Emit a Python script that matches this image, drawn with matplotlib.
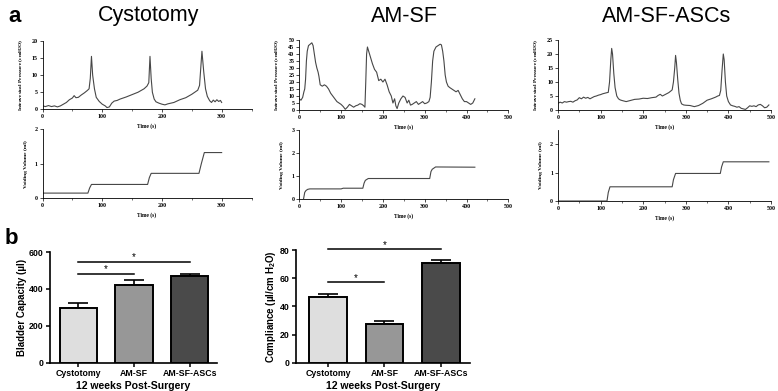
import numpy as np
import matplotlib
matplotlib.use("Agg")
import matplotlib.pyplot as plt
from matplotlib.ticker import MultipleLocator

# cystometry traces
cys_t = [0, 5, 10, 15, 20, 25, 30, 35, 40, 45,
         50, 53, 56, 60, 65, 70, 75, 78, 80, 82,
         84, 87, 90, 95, 100, 105, 108, 112, 116, 120,
         125, 130, 140, 150, 160, 170, 175, 178, 180, 182,
         184, 187, 190, 195, 200, 205, 210, 220, 230, 240,
         250, 255, 260, 263, 265, 267, 270, 273, 276, 280,
         283, 286, 289, 292, 295, 298, 300]
cys_p = [1.0, 0.8, 1.1, 0.8, 1.0, 0.7, 1.0, 1.5, 2.0, 2.8,
         3.3, 4.0, 3.4, 3.5, 4.2, 4.8, 5.5, 6.0, 9.0, 15.5,
         10.0, 6.0, 3.5, 2.3, 1.5, 1.0, 0.5, 0.7, 1.8, 2.4,
         2.6, 3.0, 3.6, 4.3, 5.0, 6.0, 6.8, 7.8, 15.5, 9.0,
         5.0, 3.0, 2.2, 1.8, 1.5, 1.3, 1.6, 2.0, 2.8, 3.4,
         4.4, 5.0, 5.6, 7.0, 12.0, 17.0, 11.0, 6.0, 3.8, 2.5,
         2.0, 2.7, 2.2, 2.8, 2.3, 2.6, 2.0]
cys_vt = [0, 76, 79, 82, 176, 179, 182, 262, 266, 271, 300]
cys_v = [0.15, 0.15, 0.3, 0.4, 0.4, 0.6, 0.72, 0.72, 1.0, 1.32, 1.32]

ams_t = [0, 4, 8, 11, 13, 15, 17, 19, 22, 26,
         30, 33, 36, 39, 42, 45, 47, 50, 55, 60,
         65, 70, 75, 80, 85, 90, 95, 100, 105, 110,
         115, 120, 125, 130, 135, 140, 145, 150, 154, 157,
         159, 161, 163, 166, 170, 175, 180, 185, 190, 195,
         200, 205, 210, 215, 220, 224, 228, 231, 234, 238,
         243, 248, 253, 258, 262, 266, 270, 275, 280, 285,
         290, 295, 300, 305, 310, 313, 316, 319, 322, 327,
         332, 337, 340, 343, 346, 349, 352, 356, 360, 365,
         370, 375, 380, 385, 390, 395, 400, 405, 410, 415,
         420]
ams_p = [8, 7, 9, 13, 15, 22, 35, 42, 46, 47,
         48, 46, 40, 34, 30, 27, 24, 18, 17, 18,
         17, 15, 12, 10, 8, 6, 5, 4, 2.5, 0.5,
         2, 4, 3, 2, 3, 3.5, 4.5, 4, 3, 2,
         20, 40, 45, 42, 38, 33, 29, 27, 21, 22,
         20, 22, 18, 13, 10, 5, 8, 3, 1, 5,
         8, 10, 9, 5, 7, 3.5, 4, 5, 6, 4,
         5, 6, 4.5, 5, 6, 9, 20, 35, 42, 45,
         46, 47, 46.5, 42, 35, 25, 20, 17, 16, 15,
         14, 13, 14, 11, 8, 6, 6, 5, 4, 5,
         8]
ams_vt = [10, 13, 16, 20, 25, 100, 105, 152, 155, 158, 165, 312, 315, 318, 326, 420]
ams_v = [0.0, 0.3, 0.38, 0.43, 0.45, 0.45, 0.48, 0.48, 0.7, 0.82, 0.9, 0.9, 1.2, 1.3, 1.4, 1.39]

asc_t = [0, 5, 10, 15, 20, 25, 30, 35, 40, 45,
         50, 55, 60, 65, 70, 75, 80, 85, 90, 95,
         100, 105, 110, 115, 118, 121, 124, 126, 128, 131,
         134, 138, 142, 146, 150, 155, 160, 170, 180, 190,
         200, 210, 220, 230, 235, 240, 245, 250, 255, 260,
         265, 268, 271, 274, 276, 278, 281, 284, 287, 290,
         295, 300, 310, 320, 330, 340, 350, 360, 370, 375,
         379, 382, 385, 388, 390, 393, 396, 400, 405, 410,
         415, 420, 425, 430, 435, 440, 445, 450, 455, 460,
         465, 470, 475, 480, 485, 490, 495]
asc_p = [2.4, 2.8, 2.5, 3.0, 2.8, 3.0, 3.1, 2.8, 3.3, 3.6,
         4.4, 4.0, 4.6, 4.2, 4.5, 4.0, 4.4, 4.8, 5.0, 5.3,
         5.5, 5.8, 6.0, 6.2, 6.3, 10.0, 18.0, 22.0, 20.0, 13.0,
         8.0, 5.0, 4.0, 3.6, 3.4, 3.2, 3.0, 3.4, 3.8, 3.9,
         4.2, 4.1, 4.4, 4.6, 5.2, 5.6, 5.0, 5.4, 5.8, 6.2,
         6.8, 7.2, 10.0, 15.0, 19.5, 17.0, 11.0, 6.0, 3.5, 2.2,
         1.8, 1.7, 1.6, 1.2, 1.6, 2.4, 3.5, 4.0, 4.6, 5.0,
         5.2, 7.0, 14.0, 20.0, 18.0, 10.0, 5.0, 3.0, 1.8, 1.5,
         1.3, 1.0, 1.2, 0.6, 0.4, 0.2, 0.8, 1.5, 1.3, 1.5,
         1.2, 1.8, 2.0, 1.5, 0.8, 1.0, 1.8]
asc_vt = [0, 115, 118, 122, 268, 271, 276, 381, 384, 388, 495]
asc_v = [0.0, 0.0, 0.3, 0.5, 0.5, 0.75, 0.97, 0.97, 1.2, 1.38, 1.38]

groups = ["Cystotomy", "AM-SF", "AM-SF-ASCs"]
capacity = [299, 419, 468]
capacity_err = [25, 31, 11]
compliance = [46.5, 27.5, 70.5]
compliance_err = [2.2, 2.2, 2.5]
bar_colors = ["#dedede", "#979797", "#4a4a4a"]

W, H = 778, 391
fig = plt.figure(figsize=(W / 100, H / 100), dpi=100)

SERIF = "Liberation Serif"
SANS = "Liberation Sans"


def px_rect(x0, y_top, x1, y_bot):
    """ Axes rect from pixel edges of the reference """
    return [x0 / W, 1 - y_bot / H, (x1 - x0) / W, (y_bot - y_top) / H]


def trace_axes(rect, t, y, xmax, ymax, ystep, ylabel):
    ax = fig.add_axes(rect)
    ax.plot(t, y, color="#474747", lw=0.8)
    ax.set_xlim(0, xmax)
    ax.set_ylim(0, ymax)
    ax.xaxis.set_major_locator(MultipleLocator(100))
    ax.xaxis.set_minor_locator(MultipleLocator(50))
    ax.yaxis.set_major_locator(MultipleLocator(ystep))
    for s in ["top", "right"]:
        ax.spines[s].set_visible(False)
    for s in ["left", "bottom"]:
        ax.spines[s].set_linewidth(0.6)
    ax.tick_params(which="major", direction="out", length=2, width=0.5, labelsize=4.3, pad=1.5)
    ax.tick_params(which="minor", direction="out", length=1.2, width=0.4)
    for lab in ax.get_xticklabels() + ax.get_yticklabels():
        lab.set_family(SERIF)
        lab.set_fontweight("bold")
    ax.set_xlabel("Time (s)", family=SERIF, fontweight="bold", fontsize=4, labelpad=3)
    ax.set_ylabel(ylabel, family=SERIF, fontweight="bold", fontsize=3.9, labelpad=5)
    return ax


p_label = r"Intravesical Pressure (cmH$_{\mathregular{2}}$O)"
v_label = "Voiding Volume (ml)"

# panel a, top row
trace_axes(px_rect(42.5, 41, 251.5, 109.3), cys_t, cys_p, 350, 20, 5, p_label)
trace_axes(px_rect(42.5, 129, 251.5, 198.3), cys_vt, cys_v, 350, 2, 1, v_label)
trace_axes(px_rect(299.3, 40, 508.3, 110), ams_t, ams_p, 500, 50, 5, p_label)
trace_axes(px_rect(299.3, 130, 508.3, 199.3), ams_vt, ams_v, 500, 3, 1, v_label)
trace_axes(px_rect(558, 40, 771, 110), asc_t, asc_p, 500, 25, 5, p_label)
trace_axes(px_rect(558, 130, 771, 201), asc_vt, asc_v, 500, 2.5, 1, v_label)

fig.text(149 / W, 1 - 16 / H, "Cystotomy", family=SANS, fontsize=15.5, ha="center", va="center")
fig.text(404 / W, 1 - 16 / H, "AM-SF", family=SANS, fontsize=15.5, ha="center", va="center")
fig.text(667 / W, 1 - 16 / H, "AM-SF-ASCs", family=SANS, fontsize=15.5, ha="center", va="center")
fig.text(8 / W, 1 - 17 / H, "a", family=SANS, fontsize=16, fontweight="bold", va="center")
fig.text(5 / W, 1 - 238 / H, "b", family=SANS, fontsize=16, fontweight="bold", va="center")


def bar_axes(rect, vals, errs, ymax, ystep, xlim, ylabel):
    ax = fig.add_axes(rect)
    x = np.arange(len(groups))
    ax.errorbar(x, vals, yerr=[np.zeros(len(vals)), errs], fmt="none", ecolor="black",
                elinewidth=1.2, capsize=7, capthick=1.2, zorder=2)
    ax.bar(x, vals, width=0.67, color=bar_colors, edgecolor="black", linewidth=1.4, zorder=3)
    ax.set_xlim(*xlim)
    ax.set_ylim(0, ymax)
    ax.set_yticks(np.arange(0, ymax + 1, ystep))
    ax.set_xticks(x)
    ax.set_xticklabels(groups)
    for s in ["top", "right"]:
        ax.spines[s].set_visible(False)
    for s in ["left", "bottom"]:
        ax.spines[s].set_linewidth(1.2)
    ax.tick_params(direction="out", length=3, width=1.1, labelsize=6.3, pad=1.5)
    for lab in ax.get_xticklabels() + ax.get_yticklabels():
        lab.set_family(SANS)
        lab.set_fontweight("bold")
    ax.set_xlabel("12 weeks Post-Surgery", family=SANS, fontweight="bold", fontsize=7.6, labelpad=2.5)
    ax.set_ylabel(ylabel, family=SANS, fontweight="bold", fontsize=7, labelpad=1)
    return ax


# panel b
ax1 = bar_axes(px_rect(49.5, 252, 217, 362.7), capacity, capacity_err, 600, 200,
               (-0.52, 2.49), "Bladder Capacity (\u00b5l)")
ax1.plot([0, 1], [482, 482], color="black", lw=1.1, clip_on=False)
ax1.plot([0, 2], [545, 545], color="black", lw=1.1, clip_on=False)
ax1.text(0.5, 508, "*", ha="center", va="center", fontsize=7, family=SANS)
ax1.text(1.0, 572, "*", ha="center", va="center", fontsize=7, family=SANS)

ax2 = bar_axes(px_rect(296, 250, 470, 362.7), compliance, compliance_err, 80, 20,
               (-0.57, 2.52), "Compliance (\u00b5l/cm H$_{\\mathregular{2}}$O)")
ax2.plot([0, 1], [57.2, 57.2], color="black", lw=1.1, clip_on=False)
ax2.plot([0, 2], [80.9, 80.9], color="black", lw=1.1, clip_on=False)
ax2.text(0.5, 59.8, "*", ha="center", va="center", fontsize=7, family=SANS)
ax2.text(1.0, 83.6, "*", ha="center", va="center", fontsize=7, family=SANS)

fig.savefig("out.png", dpi=100)
